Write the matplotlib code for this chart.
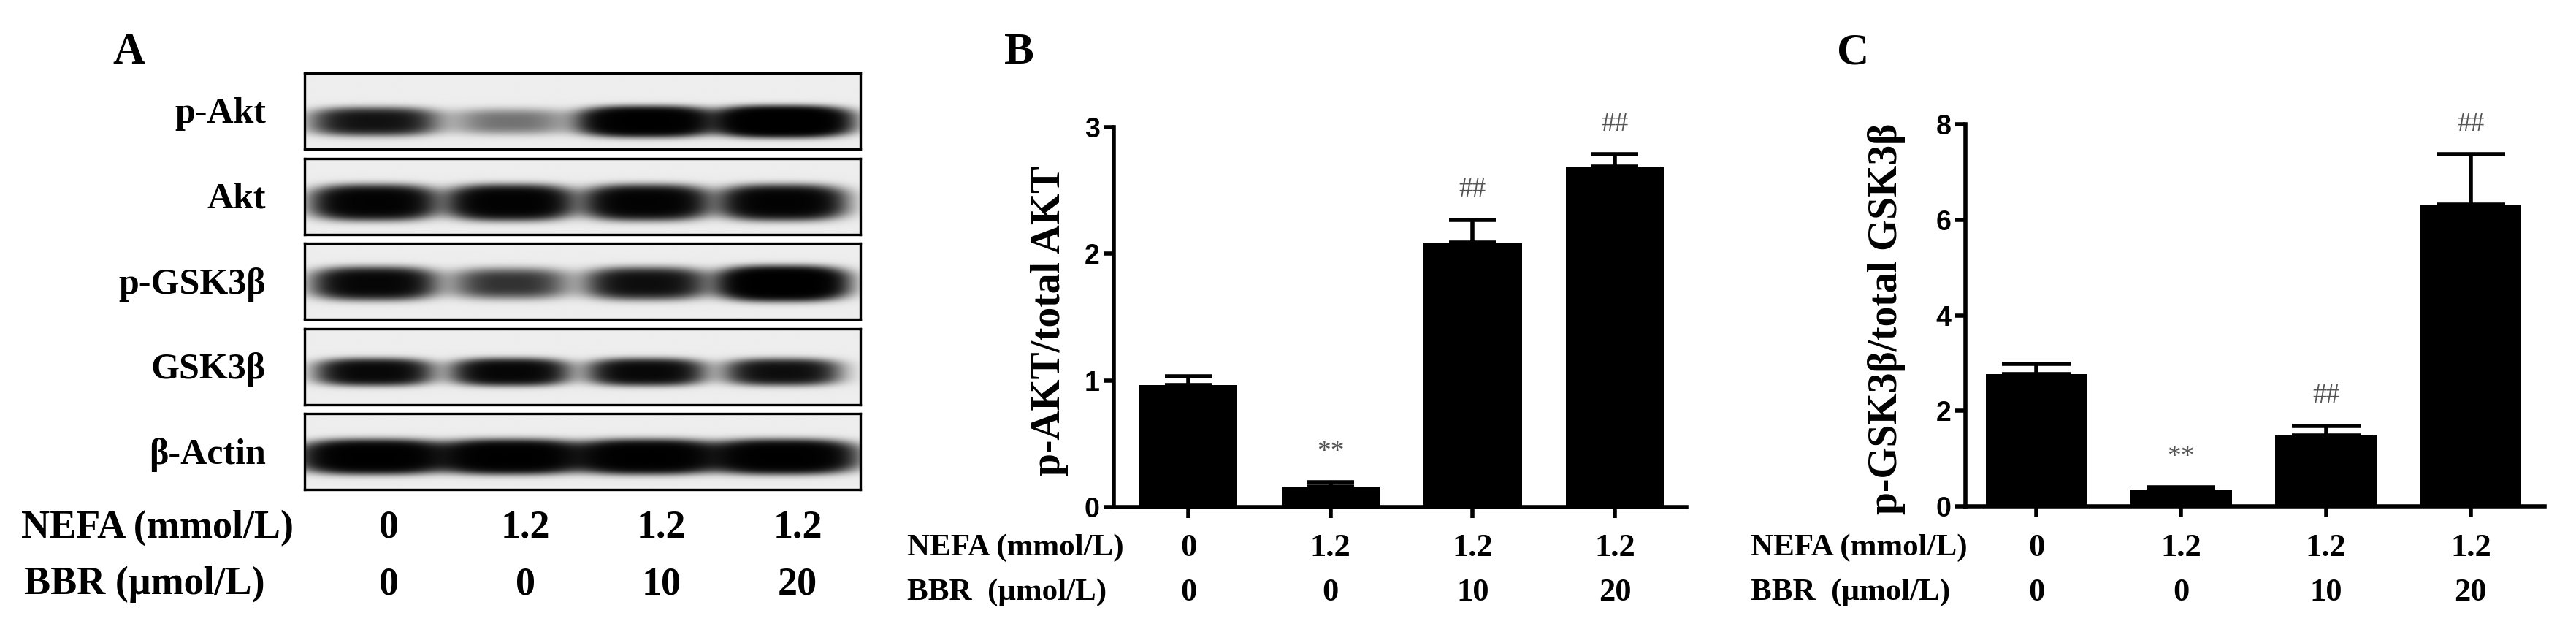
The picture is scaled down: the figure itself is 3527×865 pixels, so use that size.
import numpy as np
import matplotlib
matplotlib.use("Agg")
import matplotlib.pyplot as plt
from matplotlib.transforms import blended_transform_factory

# ---------------- data ----------------
lanes = [0, 1, 2, 3]
nefa = ["0", "1.2", "1.2", "1.2"]
bbr = ["0", "0", "10", "20"]

blot_rows = ["p-Akt", "Akt", "p-GSK3β", "GSK3β", "β-Actin"]
# relative band signal per lane
band_pakt = [1.0, 0.28, 2.3, 2.9]
band_akt = [1.7, 1.8, 1.7, 1.7]
band_pgsk = [1.4, 0.6, 1.1, 2.6]
band_gsk = [1.3, 1.4, 1.3, 1.1]
band_actin = [2.2, 2.2, 2.2, 2.2]

pakt_ratio = [0.965, 0.16, 2.09, 2.69]
pakt_sem = [0.065, 0.035, 0.175, 0.095]
pakt_marks = ["", "**", "##", "##"]

pgsk_ratio = [2.77, 0.35, 1.49, 6.31]
pgsk_sem = [0.21, 0.05, 0.20, 1.06]
pgsk_marks = ["", "**", "##", "##"]

# ---------------- layout / style ----------------
W, H = 3527, 865
DPI = 100
SERIF = ["Liberation Serif", "DejaVu Serif"]
SANS = ["Liberation Sans", "DejaVu Sans"]

fig = plt.figure(figsize=(W / DPI, H / DPI), dpi=DPI)
fig.patch.set_facecolor("white")


def fx(px):
    return px / W


def fy(py):
    return 1 - py / H


# ---------------- Panel A: western blot ----------------
blot_signals = [band_pakt, band_akt, band_pgsk, band_gsk, band_actin]
blot_style = [
    dict(yc=0.64, sx=0.40, sy=0.16),
    dict(yc=0.59, sx=0.38, sy=0.19),
    dict(yc=0.53, sx=0.38, sy=0.18),
    dict(yc=0.58, sx=0.36, sy=0.15),
    dict(yc=0.57, sx=0.44, sy=0.18),
]
lane_lim = (-0.62, 3.46)
lane_shift = -0.11
box_left, box_right = 417, 1178
box_top0, box_pitch, box_h = 100, 116.5, 104

blot_axes = []
for i, (name, sig, st) in enumerate(zip(blot_rows, blot_signals, blot_style)):
    top = box_top0 + i * box_pitch
    ax = fig.add_axes([fx(box_left), fy(top + box_h), fx(box_right - box_left), box_h / H])
    x0, x1 = lane_lim
    xs = np.linspace(x0, x1, 900)
    ys = np.linspace(0, 1, 160)
    X, Y = np.meshgrid(xs, ys)
    acc = np.zeros_like(X)
    for lane, s in zip(lanes, sig):
        dx = (X - (lane + lane_shift)) / st["sx"]
        dy = (Y - st["yc"]) / st["sy"]
        acc += s * np.exp(-np.abs(dx) ** 3) * np.exp(-np.abs(dy) ** 3)
    dark = 1 - np.exp(-2.6 * acc)
    img = 0.93 * (1 - dark)
    ax.imshow(img, extent=(x0, x1, 1, 0), cmap="gray", vmin=0, vmax=1,
              aspect="auto", interpolation="bilinear")
    ax.set_xlim(x0, x1)
    ax.set_ylim(1, 0)
    ax.set_xticks([])
    ax.set_yticks([])
    for sp in ax.spines.values():
        sp.set_linewidth(2.4)
        sp.set_color("black")
    fig.text(fx(364), fy(top + box_h / 2 + 4), name, ha="right", va="center",
             fontsize=36, fontweight="bold", family=SERIF)
    blot_axes.append(ax)

fig.text(fx(176), fy(72), "A", ha="center", va="center", fontsize=44,
         fontweight="bold", family=SERIF)

trA = blended_transform_factory(blot_axes[0].transData, fig.transFigure)
fig.text(fx(29), fy(723), "NEFA (mmol/L)", ha="left", va="center",
         fontsize=39, fontweight="bold", family=SERIF)
fig.text(fx(33), fy(800), "BBR (μmol/L)", ha="left", va="center",
         fontsize=39, fontweight="bold", family=SERIF)
for lane, a, b in zip(lanes, nefa, bbr):
    fig.text(lane, fy(723), a, transform=trA, ha="center", va="center",
             fontsize=39, fontweight="bold", family=SERIF)
    fig.text(lane, fy(800), b, transform=trA, ha="center", va="center",
             fontsize=39, fontweight="bold", family=SERIF)


# ---------------- Panels B & C: bar charts ----------------
def bar_panel(left, right, y0px, ytoppx, vals, sem, marks, ymax, step,
              xlim, width, capsize, ylabel, ylab_x, letter, letter_x,
              row_x, nefa_y, bbr_y):
    ax = fig.add_axes([fx(left), fy(y0px), fx(right - left), (y0px - ytoppx) / H])
    ax.bar(lanes, vals, width=width, color="black", edgecolor="black",
           linewidth=0, zorder=3)
    ax.errorbar(lanes, vals, yerr=[np.zeros(len(vals)), sem], fmt="none",
                ecolor="black", elinewidth=4, capsize=capsize, capthick=4,
                zorder=2)
    ax.set_xlim(*xlim)
    ax.set_ylim(0, ymax)
    for sp in ["top", "right"]:
        ax.spines[sp].set_visible(False)
    for sp in ["left", "bottom"]:
        ax.spines[sp].set_linewidth(4)
    ax.set_xticks(lanes)
    ax.set_xticklabels([])
    ax.set_yticks(np.arange(0, ymax + step / 2, step))
    ax.set_yticklabels([f"{v:g}" for v in np.arange(0, ymax + step / 2, step)],
                       fontsize=27, fontweight="bold", family=SANS)
    ax.tick_params(axis="x", length=11, width=4, direction="out")
    ax.tick_params(axis="y", length=10, width=4, direction="out", pad=4)
    ax.set_facecolor("none")
    for lane, v, e, m in zip(lanes, vals, sem, marks):
        if m:
            ax.annotate(m, xy=(lane, v + e), xytext=(0, 23),
                        textcoords="offset points", ha="center", va="baseline",
                        fontsize=27, color="#555555", family=SERIF,
                        annotation_clip=False)
    ax.text(ylab_x, 0.49, ylabel, rotation=90, transform=ax.transAxes,
            ha="center", va="center", fontsize=40, fontweight="bold",
            family=SERIF)
    fig.text(fx(letter_x), fy(72), letter, ha="center", va="center",
             fontsize=44, fontweight="bold", family=SERIF)
    tr = blended_transform_factory(ax.transData, fig.transFigure)
    fig.text(fx(row_x), fy(nefa_y), "NEFA (mmol/L)", ha="left", va="center",
             fontsize=31, fontweight="bold", family=SERIF)
    fig.text(fx(row_x), fy(bbr_y), "BBR  (μmol/L)", ha="left", va="center",
             fontsize=31, fontweight="bold", family=SERIF)
    for lane, a, b in zip(lanes, nefa, bbr):
        fig.text(lane, fy(nefa_y), a, transform=tr, ha="center", va="center",
                 fontsize=32, fontweight="bold", family=SERIF)
        fig.text(lane, fy(bbr_y), b, transform=tr, ha="center", va="center",
                 fontsize=32, fontweight="bold", family=SERIF)
    return ax


bar_panel(1525, 2309, 694, 174, pakt_ratio, pakt_sem, pakt_marks, 3, 1,
          (-0.524, 3.503), 0.69, 23, "p-AKT/total AKT", -0.112, "B", 1395,
          1242, 750, 811)
bar_panel(2691, 3484, 693, 170, pgsk_ratio, pgsk_sem, pgsk_marks, 8, 2,
          (-0.489, 3.51), 0.70, 34, "p-GSK3β/total GSK3β", -0.136, "C", 2537,
          2397, 750, 811)

fig.savefig("out.png", dpi=DPI, facecolor="white")
